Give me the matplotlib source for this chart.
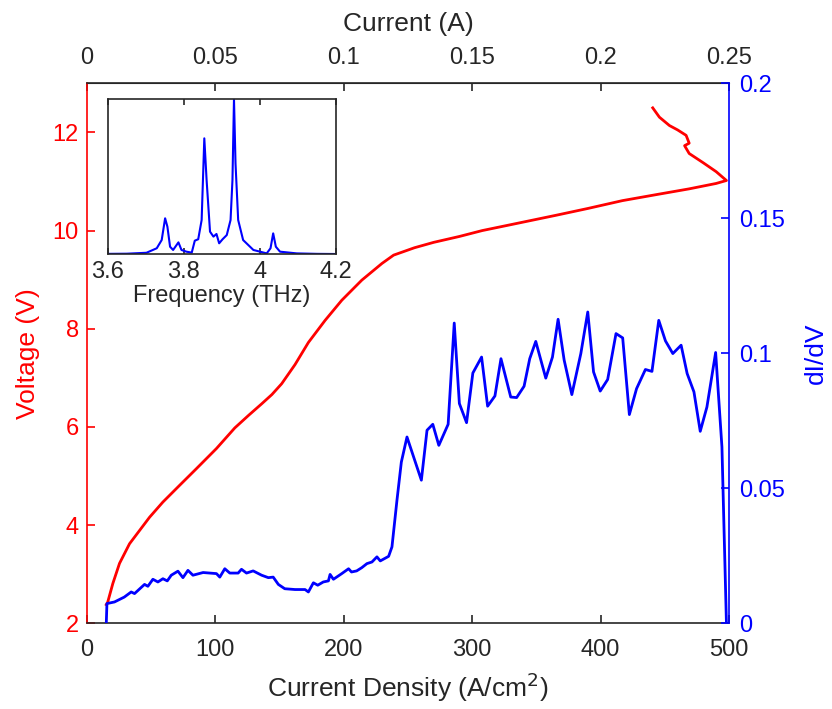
import matplotlib.pyplot as plt

plt.rcParams['font.family'] = ['Liberation Sans', 'DejaVu Sans']

# ---------- data ----------
# voltage vs current density
j_v = [15, 16.1, 20.1, 25.3, 33.1, 40.9, 48.7, 59.1, 72.1, 85.2, 100.8, 115.1, 126, 136, 144, 151.6, 162,
       172.4, 185.4, 198.4, 214, 229.7, 238.8, 245.3, 255, 270, 290, 307.8, 330, 365, 390, 417, 445, 469,
       490, 498, 490, 480, 469, 465.4, 469, 466.6, 460, 453.6, 445.8, 440.6]
volt = [2.38, 2.43, 2.81, 3.22, 3.62, 3.89, 4.16, 4.47, 4.81, 5.15, 5.56, 5.98, 6.24, 6.47, 6.66, 6.88, 7.27,
        7.72, 8.17, 8.58, 8.99, 9.33, 9.5, 9.56, 9.65, 9.76, 9.88, 10.0, 10.12, 10.31, 10.45, 10.61, 10.74,
        10.85, 10.96, 11.02, 11.2, 11.38, 11.57, 11.73, 11.78, 11.94, 12.05, 12.14, 12.31, 12.5]

# differential conductance vs current density
j_g = [15, 15.5, 21.4, 29, 34.4, 37, 44.8, 47.4, 51.3, 55.2, 59.1, 62.5, 65.6, 70.8, 74.7, 78.6, 82.5,
       90.4, 100.8, 103.4, 107.3, 111.2, 117.7, 120.3, 124.2, 129.4, 136, 141.2, 145, 149, 154, 162,
       169.8, 172.4, 176.3, 179.7, 184, 188, 189.3, 191.9, 198.4, 203.7, 206, 210, 214, 218, 221.9,
       225.8, 228.4, 234.9, 237.5, 241.4, 244.8, 249.2, 255.7, 260.4, 264.8, 269.3, 274, 281.25, 286,
       290, 295.6, 300.5, 307.3, 312, 317.7, 322.4, 330, 334.6, 340.4, 344.8, 349.5, 357.3, 362.5,
       366.9, 371.6, 377.6, 384.6, 390, 394.5, 399.7, 405.5, 412, 417.2, 422.4, 428, 434.9, 440,
       445.3, 450.5, 456.25, 462.7, 467.4, 472.7, 477.6, 482.8, 489.6, 494.5, 498]
didv = [0, 0.0073, 0.0079, 0.0097, 0.0116, 0.011, 0.0144, 0.0137, 0.0163, 0.0153, 0.0165, 0.0157, 0.0178,
        0.0193, 0.0169, 0.0196, 0.0178, 0.0188, 0.0184, 0.0171, 0.0202, 0.0186, 0.0186, 0.02, 0.0186,
        0.0194, 0.0178, 0.0169, 0.0171, 0.0144, 0.0128, 0.0125, 0.0125, 0.0116, 0.015, 0.0141, 0.0153,
        0.0157, 0.0181, 0.0163, 0.0184, 0.0202, 0.019, 0.0194, 0.0206, 0.0221, 0.0227, 0.0246, 0.0231,
        0.0248, 0.0283, 0.0456, 0.0597, 0.069, 0.0597, 0.053, 0.0715, 0.0737, 0.0659, 0.0737, 0.1112,
        0.0814, 0.0743, 0.0927, 0.0986, 0.0804, 0.0842, 0.098, 0.0838, 0.0836, 0.0878, 0.098, 0.1044,
        0.0908, 0.0986, 0.1126, 0.0975, 0.0847, 0.0999, 0.1153, 0.0931, 0.086, 0.0903, 0.1073, 0.1057,
        0.0773, 0.0869, 0.094, 0.0933, 0.1122, 0.1046, 0.0999, 0.103, 0.0925, 0.0857, 0.0711, 0.0801,
        0.1003, 0.0653, 0]

# inset spectrum (normalised)
freq = [3.6, 3.65, 3.702, 3.729, 3.742, 3.751, 3.757, 3.764, 3.772, 3.786, 3.794, 3.807, 3.821, 3.829,
        3.838, 3.847, 3.854, 3.86, 3.869, 3.878, 3.886, 3.893, 3.902, 3.913, 3.923, 3.928, 3.932, 3.936,
        3.943, 3.956, 3.983, 4.018, 4.028, 4.035, 4.042, 4.053, 4.097, 4.15, 4.2]
spec = [0.003, 0.004, 0.01, 0.039, 0.092, 0.232, 0.178, 0.049, 0.028, 0.077, 0.028, 0.017, 0.011, 0.088,
        0.097, 0.221, 0.747, 0.479, 0.146, 0.114, 0.131, 0.071, 0.097, 0.124, 0.221, 0.479, 1.0, 0.586,
        0.221, 0.092, 0.028, 0.006, 0.039, 0.135, 0.049, 0.017, 0.006, 0.003, 0.002]

RED = '#ff0000'
BLUE = '#0000ff'
DARK = '#262626'
TICK_FS = 17
LABEL_FS = 19

fig = plt.figure(figsize=(8.32, 7.09), dpi=100)
ax = fig.add_axes([0.1046, 0.1209, 0.7716, 0.7616])
ax2 = ax.twinx()

ax.plot(j_v, volt, color=RED, lw=2)
ax2.plot(j_g, didv, color=BLUE, lw=2)

ax.set_xlim(0, 500)
ax.set_ylim(2, 13)
ax2.set_ylim(0, 0.2)
ax.set_xticks([0, 100, 200, 300, 400, 500])
ax.set_yticks([2, 4, 6, 8, 10, 12])
ax2.set_yticks([0, 0.05, 0.1, 0.15, 0.2])
ax2.set_yticklabels(['0', '0.05', '0.1', '0.15', '0.2'])

ax.set_xlabel('Current Density (A/cm$^2$)', fontsize=LABEL_FS, color=DARK, labelpad=7)
ax.set_ylabel('Voltage (V)', fontsize=LABEL_FS, color=RED, labelpad=9)
ax2.set_ylabel('dI/dV', fontsize=LABEL_FS, color=BLUE, labelpad=14)

for sp in ['top', 'bottom']:
    ax.spines[sp].set_color(DARK)
ax.spines['left'].set_color(RED)
ax.spines['right'].set_visible(False)
ax2.spines['left'].set_visible(False)
ax2.spines['top'].set_visible(False)
ax2.spines['bottom'].set_visible(False)
ax2.spines['right'].set_color(BLUE)
for sp in ax.spines.values():
    sp.set_linewidth(1.2)
ax2.spines['right'].set_linewidth(1.2)

ax.tick_params(axis='x', direction='in', labelsize=TICK_FS, colors=DARK, length=6, width=1.2, pad=11)
ax.tick_params(axis='y', direction='in', labelsize=TICK_FS, colors=RED, length=6, width=1.2, pad=6)
ax2.tick_params(axis='y', direction='in', labelsize=TICK_FS, colors=BLUE, length=6, width=1.2, pad=7)

# top axis: current
top = ax.secondary_xaxis('top', functions=(lambda x: x * 0.0005, lambda x: x / 0.0005))
top.set_xticks([0, 0.05, 0.1, 0.15, 0.2, 0.25])
top.set_xticklabels(['0', '0.05', '0.1', '0.15', '0.2', '0.25'])
top.tick_params(direction='in', labelsize=TICK_FS, colors=DARK, length=6, width=1.2, pad=10)
top.spines['top'].set_color(DARK)
top.set_xlabel('Current (A)', fontsize=LABEL_FS, color=DARK, labelpad=12)

# inset
ins = fig.add_axes([0.1294, 0.6413, 0.2744, 0.219])
ins.plot(freq, spec, color=BLUE, lw=1.5)
ins.set_xlim(3.6, 4.2)
ins.set_ylim(0, 1.0)
ins.set_xticks([3.6, 3.8, 4.0, 4.2])
ins.set_xticklabels(['3.6', '3.8', '4', '4.2'])
ins.set_yticks([])
ins.tick_params(axis='x', direction='in', top=True, labelsize=TICK_FS, colors=DARK, length=4, width=1.2, pad=5)
ins.set_xlabel('Frequency (THz)', fontsize=TICK_FS, color=DARK, labelpad=1)
for sp in ins.spines.values():
    sp.set_color(DARK)
    sp.set_linewidth(1.2)

fig.savefig('out.png', dpi=100)
